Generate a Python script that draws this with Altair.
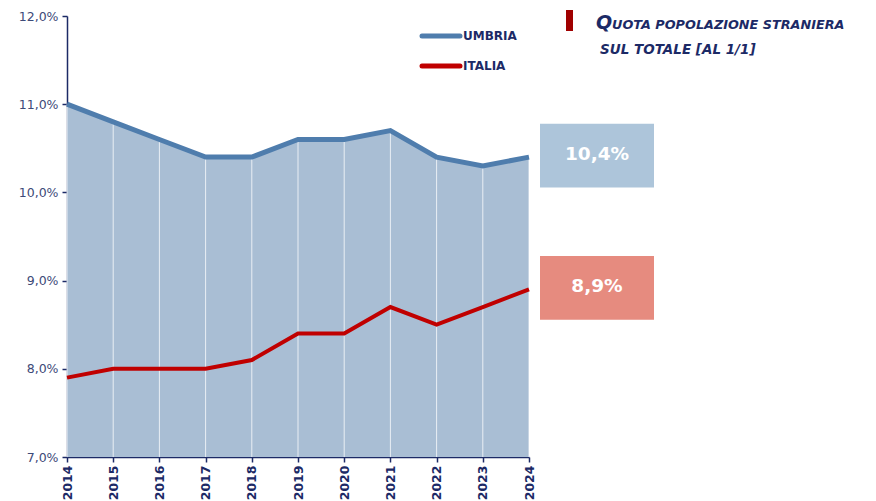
import altair as alt
import pandas as pd

years = [2014, 2015, 2016, 2017, 2018, 2019, 2020, 2021, 2022, 2023, 2024]
umbria = [11.0, 10.8, 10.6, 10.4, 10.4, 10.6, 10.6, 10.7, 10.4, 10.3, 10.4]
italia = [7.9, 8.0, 8.0, 8.0, 8.1, 8.4, 8.4, 8.7, 8.5, 8.7, 8.9]
series_names = ["UMBRIA", "ITALIA"]
series_colors = ["#4f7dad", "#c00000"]
box_colors = ["#adc5da", "#e68b7f"]
y_min, y_max = 7.0, 12.0

NAVY = "#1c2a66"
LABEL = "#3d4a78"
FONT = "DejaVu Sans"

df_u = pd.DataFrame({"anno": years, "valore": umbria, "base": y_min})
df_i = pd.DataFrame({"anno": years, "valore": italia})
last = pd.DataFrame({
    "serie": series_names,
    "valore": [umbria[-1], italia[-1]],
    "colore": box_colors,
})
last["top"] = last["valore"] + 0.345
last["bot"] = last["valore"] - 0.345
last["testo"] = last["valore"].map(lambda v: f"{v:.1f}".replace(".", ",") + "%")

W, H = 462, 441

xs = alt.X("anno:Q", scale=alt.Scale(domain=[years[0], years[-1]], nice=False, zero=False),
           axis=alt.Axis(values=years, format="d", title=None, grid=False, labelAngle=270,
                         labelFont=FONT, labelFontWeight="bold", labelFontSize=12.5,
                         labelColor=NAVY, domainColor=NAVY, domainWidth=1.5, tickColor=NAVY,
                         tickWidth=1.5, tickSize=5, labelPadding=3))
ys = alt.Y("valore:Q", scale=alt.Scale(domain=[y_min, y_max], nice=False, zero=False),
           axis=alt.Axis(values=[7, 8, 9, 10, 11, 12], title=None, grid=False,
                         labelExpr="replace(format(datum.value, '.1f'), '.', ',') + '%'",
                         labelFont=FONT, labelFontSize=12.5, labelColor=LABEL,
                         domainColor=NAVY, domainWidth=1.5, tickColor=NAVY, tickWidth=1.5,
                         tickSize=5, labelPadding=4))

area = alt.Chart(df_u).mark_area(color="#a9bed4", opacity=1).encode(x=xs, y=ys, y2="base:Q")
grid = alt.Chart(df_u).mark_rule(color="white", strokeWidth=1, opacity=0.75).encode(
    x="anno:Q", y="valore:Q", y2="base:Q")
line_u = alt.Chart(df_u).mark_line(color=series_colors[0], strokeWidth=5).encode(x="anno:Q", y="valore:Q")
line_i = alt.Chart(df_i).mark_line(color=series_colors[1], strokeWidth=4).encode(x="anno:Q", y="valore:Q")

boxes = alt.Chart(last).mark_rect(yOffset=-3).encode(
    x=alt.value(473), x2=alt.value(587), y="top:Q", y2="bot:Q",
    color=alt.Color("colore:N", scale=None))
box_txt = alt.Chart(last).mark_text(font=FONT, fontSize=18.5, fontWeight="bold", color="white",
                                    align="center", baseline="middle", yOffset=-3).encode(
    x=alt.value(530), y="valore:Q", text="testo:N")

# legend (manual)
leg = pd.DataFrame({"serie": series_names, "colore": series_colors, "py": [20, 50]})
leg_lines = alt.Chart(leg).mark_rule(strokeWidth=5, strokeCap="round").encode(
    x=alt.value(355), x2=alt.value(393), y=alt.Y("py:Q", scale=None),
    color=alt.Color("colore:N", scale=None))
leg_txt = alt.Chart(leg).mark_text(font=FONT, fontSize=12, fontWeight="bold", color=NAVY,
                                   align="left", baseline="middle").encode(
    x=alt.value(396), y=alt.Y("py:Q", scale=None), text="serie:N")

# title block
one = pd.DataFrame({"k": [0]})
marker = alt.Chart(one).mark_rect(color="#a00000").encode(
    x=alt.value(499), x2=alt.value(506), y=alt.value(-6), y2=alt.value(15))
t_q = alt.Chart(one).mark_text(text="Q", font=FONT, fontSize=19, fontWeight="bold",
                               fontStyle="italic", color=NAVY, align="left",
                               baseline="alphabetic").encode(x=alt.value(529), y=alt.value(13))
t_1 = alt.Chart(one).mark_text(text="UOTA POPOLAZIONE STRANIERA", font=FONT, fontSize=12.8,
                               fontWeight="bold", fontStyle="italic", color=NAVY, align="left",
                               baseline="alphabetic").encode(x=alt.value(545), y=alt.value(13))
t_2 = alt.Chart(one).mark_text(text="SUL TOTALE [AL 1/1]", font=FONT, fontSize=13.5,
                               fontWeight="bold", fontStyle="italic", color=NAVY, align="left",
                               baseline="alphabetic").encode(x=alt.value(533), y=alt.value(38))

chart = alt.layer(area, grid, line_u, line_i, boxes, box_txt, leg_lines, leg_txt,
                  marker, t_q, t_1, t_2).properties(
    width=W, height=H,
    autosize=alt.AutoSizeParams(type="none"),
    padding={"left": 59, "top": 8, "right": 339, "bottom": 44},
).configure(background="white").configure_view(strokeWidth=0, stroke="transparent")

chart.save("out.html", embed_options={"renderer": "svg", "actions": False})
